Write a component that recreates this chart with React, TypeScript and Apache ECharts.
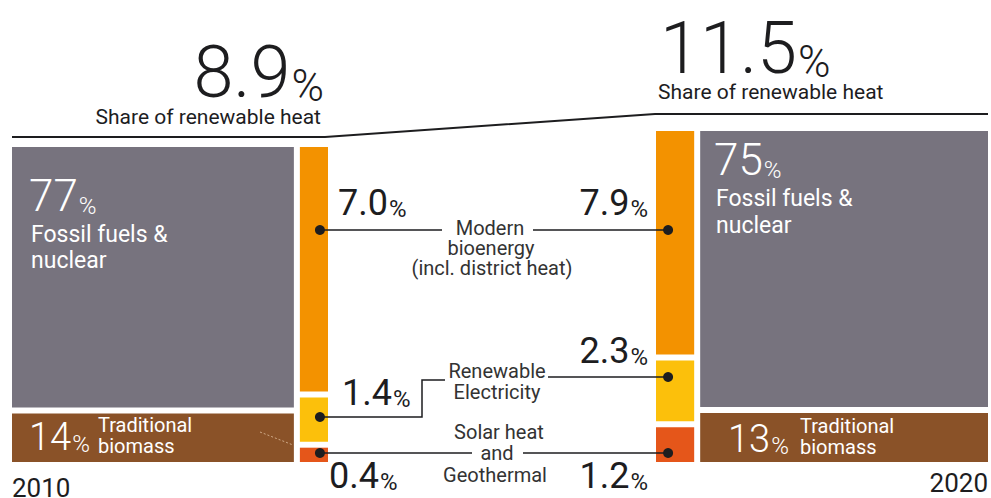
import React, { useEffect, useRef } from "react";
import * as echarts from "echarts";

// ---------- data ----------
const years = ["2010", "2020"];
const renewableShare = [8.9, 11.5];
const fossilNuclear = [77, 75];
const traditionalBiomass = [14, 13];
const modernBioenergy = [7.0, 7.9];
const renewableElectricity = [1.4, 2.3];
const solarGeothermal = [0.4, 1.2];
const segmentNames = [
  "Fossil fuels & nuclear",
  "Traditional biomass",
  "Modern bioenergy (incl. district heat)",
  "Renewable Electricity",
  "Solar heat and Geothermal",
];

// ---------- styling ----------
const COLORS = ["#77737E", "#8A5228", "#F39200", "#FCC00B", "#E5561A"];
const GAP = 6;
const FONT = "Roboto";
const DARK = "#1d1d1f";
const MID = "#333333";
const Z = 50;

function fmt(v: number) {
  return v.toFixed(1);
}

function yearRects(i: number) {
  const share = renewableShare[i];
  const narrowFirst = i === 1;
  const narrow = narrowFirst ? [0, share] : [100 - share, 100];
  const wide = narrowFirst ? [share, 100] : [0, 100 - share];
  const wideTot = fossilNuclear[i] + traditionalBiomass[i];
  const tradTop = (traditionalBiomass[i] / wideTot) * 100;
  const renTot = modernBioenergy[i] + renewableElectricity[i] + solarGeothermal[i];
  const solarTop = (solarGeothermal[i] / renTot) * 100;
  const elecTop = ((solarGeothermal[i] + renewableElectricity[i]) / renTot) * 100;
  return [
    { name: segmentNames[0], value: [wide[0], wide[1], tradTop, 100, 0] },
    { name: segmentNames[1], value: [wide[0], wide[1], 0, tradTop, 1] },
    { name: segmentNames[2], value: [narrow[0], narrow[1], elecTop, 100, 2] },
    { name: segmentNames[3], value: [narrow[0], narrow[1], solarTop, elecTop, 3] },
    { name: segmentNames[4], value: [narrow[0], narrow[1], 0, solarTop, 4] },
  ];
}

function renderItem(params: any, api: any) {
  const x0 = api.value(0);
  const x1 = api.value(1);
  const y0 = api.value(2);
  const y1 = api.value(3);
  const c = api.value(4);
  const p0 = api.coord([x0, y1]);
  const p1 = api.coord([x1, y0]);
  let left = p0[0];
  let right = p1[0];
  const top = p0[1];
  let bottom = p1[1];
  if (c < 2) {
    if (x1 < 100) right -= GAP;
    if (x0 > 0) left += GAP;
  }
  if (y0 > 0) bottom -= GAP;
  return {
    type: "rect",
    shape: { x: left, y: top, width: right - left, height: bottom - top },
    style: { fill: COLORS[c] },
  };
}

// text helpers (baseline positioning)
function txt(
  text: string,
  x: number,
  baseline: number,
  size: number,
  align: string,
  color: string,
  weight: number = 400
) {
  return {
    type: "text",
    x,
    y: baseline - 0.34 * size,
    z: Z,
    silent: true,
    style: {
      text,
      fill: color,
      fontSize: size,
      fontFamily: FONT,
      fontWeight: weight,
      align,
      verticalAlign: "middle",
    },
  };
}

function numPct(
  num: string,
  x: number,
  baseline: number,
  nSize: number,
  pSize: number,
  align: string,
  color: string,
  weight: number = 400
) {
  return {
    type: "text",
    x,
    y: baseline + 0.155 * nSize,
    z: Z,
    silent: true,
    style: {
      text: `{n|${num}}{p|%}`,
      fill: color,
      align,
      verticalAlign: "bottom",
      fontFamily: FONT,
      rich: {
        n: {
          fontSize: nSize,
          fontFamily: FONT,
          fontWeight: weight,
          lineHeight: 0.68 * nSize,
          verticalAlign: "bottom",
          fill: color,
        },
        p: {
          fontSize: pSize,
          fontFamily: FONT,
          fontWeight: weight,
          lineHeight: 0.68 * pSize,
          verticalAlign: "bottom",
          fill: color,
          padding: [0, 0, 0, 1],
        },
      },
    },
  };
}

function line(points: number[][], width = 1.5, color = DARK) {
  return {
    type: "polyline",
    silent: true,
    z: Z,
    shape: { points },
    style: { stroke: color, lineWidth: width, fill: null },
  };
}

function dot(x: number, y: number) {
  return {
    type: "circle",
    silent: true,
    z: Z + 1,
    shape: { cx: x, cy: y, r: 5 },
    style: { fill: DARK },
  };
}

export default function App() {
  const ref = useRef<HTMLDivElement>(null);

  useEffect(() => {
    document.body.style.margin = "0";
    if (!ref.current) return;
    const chart = echarts.init(ref.current, null, { renderer: "svg" });

    const grids = [
      { left: 12, top: 147, width: 316, height: 315 },
      { left: 656, top: 131, width: 332, height: 331 },
    ];

    chart.setOption({
      animation: false,
      grid: grids.map((g) => ({ ...g, show: false })),
      xAxis: grids.map((_, i) => ({
        type: "value",
        gridIndex: i,
        min: 0,
        max: 100,
        show: false,
      })),
      yAxis: grids.map((_, i) => ({
        type: "value",
        gridIndex: i,
        min: 0,
        max: 100,
        show: false,
      })),
      series: years.map((y, i) => ({
        type: "custom",
        name: y,
        xAxisIndex: i,
        yAxisIndex: i,
        renderItem,
        encode: { x: [0, 1], y: [2, 3] },
        data: yearRects(i),
        silent: true,
        z: 2,
      })),
    });

    // narrow-column centres via the axes
    const lc = chart.convertToPixel({ gridIndex: 0 } as any, [100 - renewableShare[0] / 2, 0]) as number[];
    const rc = chart.convertToPixel({ gridIndex: 1 } as any, [renewableShare[1] / 2, 0]) as number[];
    const dL = lc[0] + 6;
    const dR = rc[0] - 7;

    const graphic: any[] = [
      // header line
      line([[12, 137], [325, 137], [655, 114], [988, 114]], 2, DARK),
      // header numbers
      numPct(fmt(renewableShare[0]), 324, 97, 72, 44, "right", DARK, 300),
      txt("Share of renewable heat", 321, 124, 21, "right", DARK),
      numPct(fmt(renewableShare[1]), 660, 73, 72, 44, "left", DARK, 300),
      txt("Share of renewable heat", 658, 99, 21, "left", DARK),

      // block labels 2010
      numPct(String(fossilNuclear[0]), 29, 211, 44, 24, "left", "#fff", 300),
      txt("Fossil fuels &", 31, 242, 23, "left", "#fff"),
      txt("nuclear", 31, 268, 23, "left", "#fff"),
      numPct(String(traditionalBiomass[0]), 29, 450, 38, 24, "left", "#fff", 300),
      txt("Traditional", 98, 432, 20, "left", "#fff"),
      txt("biomass", 98, 453, 20, "left", "#fff"),
      {
        type: "line",
        silent: true,
        z: Z,
        shape: { x1: 260, y1: 432, x2: 293, y2: 445 },
        style: { stroke: "rgba(235,205,175,0.7)", lineWidth: 1, lineDash: [2, 2] },
      },

      // block labels 2020
      numPct(String(fossilNuclear[1]), 714, 175, 44, 24, "left", "#fff", 300),
      txt("Fossil fuels &", 716, 206, 23, "left", "#fff"),
      txt("nuclear", 716, 233, 23, "left", "#fff"),
      numPct(String(traditionalBiomass[1]), 728, 452, 38, 24, "left", "#fff", 300),
      txt("Traditional", 800, 433, 20, "left", "#fff"),
      txt("biomass", 800, 454, 20, "left", "#fff"),

      // modern bioenergy
      numPct(fmt(modernBioenergy[0]), 338, 215, 36, 24, "left", DARK),
      numPct(fmt(modernBioenergy[1]), 648, 215, 36, 24, "right", DARK),
      txt("Modern", 490, 235, 20, "center", MID),
      txt("bioenergy", 491, 255, 20, "center", MID),
      txt("(incl. district heat)", 492, 275, 20, "center", MID),
      line([[dL, 230], [442, 230]]),
      line([[533, 230], [dR, 230]]),
      dot(dL, 230),
      dot(dR, 230),

      // renewable electricity
      numPct(fmt(renewableElectricity[0]), 342, 405, 36, 24, "left", DARK),
      numPct(fmt(renewableElectricity[1]), 648, 363, 36, 24, "right", DARK),
      txt("Renewable", 497, 378, 20, "center", MID),
      txt("Electricity", 497, 399, 20, "center", MID),
      line([[dL, 417], [422, 417], [422, 380], [445, 380]]),
      line([[548, 377], [dR, 377]]),
      dot(dL, 417),
      dot(dR, 377),

      // solar heat and geothermal
      numPct(fmt(solarGeothermal[0]), 329, 488, 36, 24, "left", DARK),
      numPct(fmt(solarGeothermal[1]), 648, 488, 36, 24, "right", DARK),
      txt("Solar heat", 499, 439, 20, "center", MID),
      txt("and", 497, 460, 20, "center", MID),
      txt("Geothermal", 495, 482, 20, "center", MID),
      line([[dL, 453], [472, 453]]),
      line([[523, 453], [dR, 453]]),
      dot(dL, 453),
      dot(dR, 453),

      // years
      txt(years[0], 12, 497, 26, "left", DARK),
      txt(years[1], 988, 492, 26, "right", DARK),
    ];

    chart.setOption({ graphic });

    return () => chart.dispose();
  }, []);

  return <div ref={ref} style={{ width: 991, height: 498 }} />;
}
